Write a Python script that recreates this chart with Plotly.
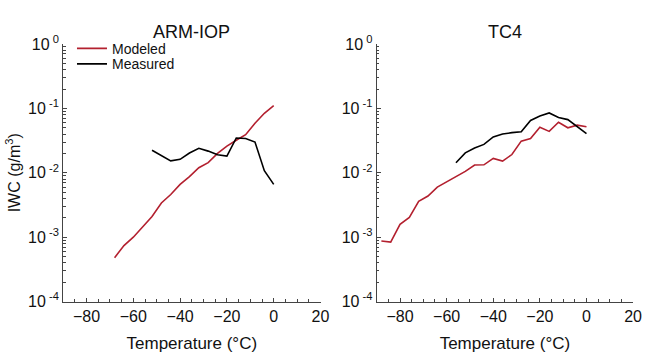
import plotly.graph_objects as go

# Temperature grid (deg C) and ice water content (g/m^3)
arm_temp_model = [-68, -64, -60, -56, -52, -48, -44, -40, -36, -32, -28, -24, -20, -16, -12, -8, -4, 0]
arm_iwc_model = [4.8e-4, 7.4e-4, 1.0e-3, 1.45e-3, 2.1e-3, 3.4e-3, 4.6e-3, 6.6e-3, 8.7e-3, 1.2e-2,
                 1.44e-2, 2.0e-2, 2.6e-2, 3.2e-2, 3.9e-2, 5.9e-2, 8.4e-2, 0.11]

arm_temp_meas = [-52, -48, -44, -40, -36, -32, -28, -24, -20, -16, -12, -8, -4, 0]
arm_iwc_meas = [2.24e-2, 1.85e-2, 1.53e-2, 1.62e-2, 2.03e-2, 2.4e-2, 2.17e-2, 1.9e-2, 1.82e-2,
                3.47e-2, 3.4e-2, 3.0e-2, 1.08e-2, 6.6e-3]

tc4_temp_model = [-88, -84, -80, -76, -72, -68, -64, -60, -56, -52, -48, -44, -40, -36, -32,
                  -28, -24, -20, -16, -12, -8, -4, 0]
tc4_iwc_model = [8.7e-4, 8.4e-4, 1.58e-3, 2.03e-3, 3.6e-3, 4.35e-3, 6.0e-3, 7.2e-3, 8.9e-3, 1.05e-2,
                 1.32e-2, 1.33e-2, 1.67e-2, 1.52e-2, 1.92e-2, 3.1e-2, 3.4e-2, 5.1e-2, 4.4e-2,
                 6.1e-2, 5.0e-2, 5.5e-2, 5.2e-2]

tc4_temp_meas = [-56, -52, -48, -44, -40, -36, -32, -28, -24, -20, -16, -12, -8, -4, 0]
tc4_iwc_meas = [1.43e-2, 2.04e-2, 2.43e-2, 2.76e-2, 3.6e-2, 4.0e-2, 4.2e-2, 4.35e-2, 6.5e-2,
                7.6e-2, 8.5e-2, 7.2e-2, 6.7e-2, 5.3e-2, 4.07e-2]

panel_titles = ["ARM-IOP", "TC4"]
y_tick_vals = [1e-4, 1e-3, 1e-2, 1e-1, 1]
y_tick_text = ["10<sup> -4</sup>", "10<sup> -3</sup>", "10<sup> -2</sup>", "10<sup> -1</sup>", "10<sup> 0</sup>"]
y_minor_vals = [m * 10.0 ** e for e in range(-4, 0) for m in range(2, 10)]

RED = "#b3202f"
BLACK = "#000000"
FONT = "Liberation Sans, Arial, Helvetica, sans-serif"

fig = go.Figure()

fig.add_trace(go.Scatter(x=arm_temp_model, y=arm_iwc_model, mode="lines", name="Modeled",
                         line=dict(color=RED, width=1.6), xaxis="x", yaxis="y", legend="legend"))
fig.add_trace(go.Scatter(x=arm_temp_meas, y=arm_iwc_meas, mode="lines", name="Measured",
                         line=dict(color=BLACK, width=1.6), xaxis="x", yaxis="y", legend="legend2"))
fig.add_trace(go.Scatter(x=tc4_temp_model, y=tc4_iwc_model, mode="lines", name="Modeled",
                         line=dict(color=RED, width=1.6), xaxis="x2", yaxis="y2", showlegend=False))
fig.add_trace(go.Scatter(x=tc4_temp_meas, y=tc4_iwc_meas, mode="lines", name="Measured",
                         line=dict(color=BLACK, width=1.6), xaxis="x2", yaxis="y2", showlegend=False))

y_bottom = 1 - 308 / 353
y_top = 1 - 35 / 353

xaxis_common = dict(
    range=[-90, 20], tick0=0, dtick=20, ticks="inside", ticklen=4, tickwidth=1,
    tickcolor="#444", showline=True, linecolor="#444", linewidth=1, mirror=False,
    showgrid=False, zeroline=False,
    tickfont=dict(size=16, color="#111"),
    title=dict(text="Temperature (°C)", font=dict(size=17, color="#111"), standoff=14),
    minor=dict(dtick=5, tick0=0, ticks="inside", ticklen=2.5, tickcolor="#444", showgrid=False),
)
yaxis_common = dict(
    type="log", range=[-4, 0], tickvals=y_tick_vals, ticktext=y_tick_text,
    ticks="inside", ticklen=4, tickwidth=1, tickcolor="#444",
    showline=True, linecolor="#444", linewidth=1, mirror=False,
    showgrid=False, zeroline=False,
    tickfont=dict(size=16, color="#111"),
    minor=dict(tickvals=y_minor_vals, ticks="inside", ticklen=2.5, tickcolor="#444", showgrid=False),
    domain=[y_bottom, y_top],
)

legend_common = dict(xanchor="left", yanchor="middle", bgcolor="rgba(0,0,0,0)", borderwidth=0,
                     font=dict(size=14, color="#111"), itemwidth=30)

fig.update_layout(
    width=650, height=353,
    margin=dict(l=0, r=0, t=0, b=0),
    paper_bgcolor="white", plot_bgcolor="white",
    font=dict(family=FONT, color="#111"),
    xaxis=dict(xaxis_common, domain=[64 / 650, 325 / 650], anchor="y"),
    yaxis=dict(yaxis_common, anchor="x",
               title=dict(text="IWC (g/m<sup>3</sup>)", font=dict(size=16, color="#111"), standoff=3)),
    xaxis2=dict(xaxis_common, domain=[382 / 650, 642 / 650], anchor="y2"),
    yaxis2=dict(yaxis_common, anchor="x2"),
    showlegend=True,
    legend=dict(legend_common, x=73 / 650, y=1 - 40 / 353),
    legend2=dict(legend_common, x=73 / 650, y=1 - 56.5 / 353),
)

# Panel titles centered over each subplot
for title, (x0, x1) in zip(panel_titles, [(64, 325), (382, 642)]):
    fig.add_annotation(text=title, x=(x0 + x1) / 2 / 650, y=1 - 22 / 353,
                       xref="paper", yref="paper", showarrow=False,
                       xanchor="center", yanchor="middle",
                       font=dict(size=18, color="#111"))

fig.write_html("out.html")
